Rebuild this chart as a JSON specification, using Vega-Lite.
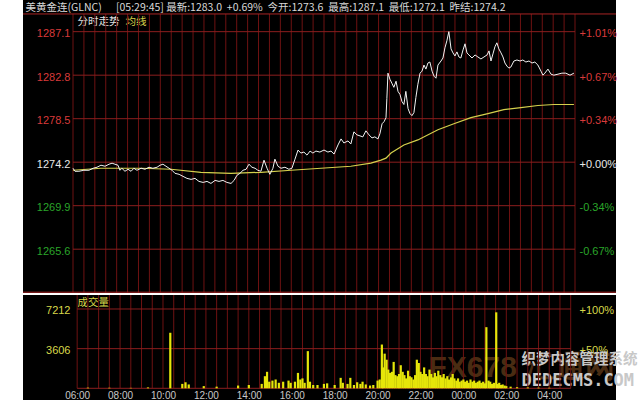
{
  "$schema": "https://vega.github.io/schema/vega-lite/v6.json",
  "background": "white",
  "padding": {"left": 22, "right": 25, "top": 0, "bottom": 0},
  "spacing": 0,
  "config": {
    "view": {"stroke": null, "fill": "#000000"},
    "axis": {"labelFont": "Liberation Sans", "titleFont": "Noto Sans CJK SC", "minExtent": 0, "domain": false, "ticks": false, "grid": false, "titleFontWeight": "normal", "labelFontWeight": "normal", "titleLimit": 700}
  },
  "datasets": {
    "price": [
      {"h":0,"p":1273.6},{"h":0.09,"p":1273.3},{"h":0.27,"p":1273.3},{"h":0.5,"p":1273.4},{"h":0.73,"p":1273.4},{"h":0.92,"p":1273.6},{"h":1.1,"p":1273.7},{"h":1.28,"p":1273.9},{"h":1.47,"p":1273.8},{"h":1.65,"p":1274.0},{"h":1.79,"p":1274.1},{"h":1.92,"p":1274.0},{"h":2.06,"p":1273.9},{"h":2.15,"p":1273.4},{"h":2.24,"p":1273.6},{"h":2.38,"p":1273.3},{"h":2.52,"p":1273.5},{"h":2.66,"p":1273.3},{"h":2.79,"p":1273.6},{"h":2.93,"p":1273.4},{"h":3.12,"p":1273.6},{"h":3.3,"p":1273.5},{"h":3.48,"p":1273.7},{"h":3.66,"p":1273.6},{"h":3.85,"p":1273.7},{"h":3.99,"p":1273.9},{"h":4.12,"p":1274.0},{"h":4.26,"p":1273.8},{"h":4.4,"p":1273.6},{"h":4.54,"p":1273.4},{"h":4.67,"p":1273.1},{"h":4.86,"p":1273.0},{"h":5.04,"p":1272.8},{"h":5.22,"p":1272.6},{"h":5.41,"p":1272.5},{"h":5.59,"p":1272.6},{"h":5.77,"p":1272.3},{"h":5.96,"p":1272.2},{"h":6.14,"p":1272.3},{"h":6.32,"p":1272.1},{"h":6.51,"p":1272.4},{"h":6.69,"p":1272.3},{"h":6.87,"p":1272.4},{"h":7.05,"p":1272.2},{"h":7.24,"p":1272.1},{"h":7.38,"p":1272.4},{"h":7.51,"p":1272.9},{"h":7.65,"p":1273.1},{"h":7.79,"p":1273.4},{"h":7.93,"p":1273.5},{"h":8.06,"p":1274.0},{"h":8.2,"p":1273.7},{"h":8.34,"p":1273.6},{"h":8.47,"p":1273.4},{"h":8.61,"p":1273.3},{"h":8.75,"p":1274.4},{"h":8.89,"p":1273.6},{"h":9.02,"p":1273.0},{"h":9.16,"p":1273.6},{"h":9.25,"p":1274.5},{"h":9.39,"p":1273.8},{"h":9.53,"p":1273.6},{"h":9.71,"p":1273.7},{"h":9.89,"p":1273.5},{"h":10.03,"p":1273.6},{"h":10.17,"p":1274.5},{"h":10.31,"p":1275.4},{"h":10.44,"p":1275.1},{"h":10.58,"p":1275.2},{"h":10.72,"p":1274.9},{"h":10.86,"p":1275.3},{"h":10.99,"p":1275.1},{"h":11.13,"p":1275.3},{"h":11.31,"p":1275.2},{"h":11.5,"p":1275.4},{"h":11.68,"p":1275.2},{"h":11.82,"p":1275.3},{"h":11.96,"p":1275.0},{"h":12.14,"p":1275.9},{"h":12.28,"p":1276.5},{"h":12.41,"p":1276.1},{"h":12.6,"p":1276.3},{"h":12.73,"p":1276.0},{"h":12.87,"p":1277.2},{"h":13.01,"p":1276.9},{"h":13.15,"p":1276.8},{"h":13.28,"p":1276.7},{"h":13.42,"p":1277.3},{"h":13.56,"p":1276.9},{"h":13.7,"p":1276.6},{"h":13.83,"p":1276.7},{"h":13.97,"p":1276.5},{"h":14.06,"p":1277.0},{"h":14.16,"p":1278.0},{"h":14.25,"p":1278.2},{"h":14.34,"p":1278.6},{"h":14.38,"p":1280.5},{"h":14.43,"p":1283.0},{"h":14.52,"p":1282.4},{"h":14.61,"p":1282.0},{"h":14.7,"p":1281.6},{"h":14.8,"p":1282.2},{"h":14.89,"p":1281.2},{"h":14.98,"p":1280.9},{"h":15.07,"p":1280.2},{"h":15.16,"p":1279.9},{"h":15.25,"p":1281.2},{"h":15.35,"p":1279.5},{"h":15.44,"p":1279.0},{"h":15.53,"p":1278.8},{"h":15.62,"p":1279.1},{"h":15.71,"p":1280.6},{"h":15.8,"p":1281.9},{"h":15.9,"p":1283.0},{"h":15.99,"p":1283.2},{"h":16.08,"p":1283.8},{"h":16.17,"p":1283.4},{"h":16.26,"p":1284.0},{"h":16.35,"p":1284.1},{"h":16.45,"p":1283.2},{"h":16.54,"p":1282.7},{"h":16.63,"p":1282.5},{"h":16.72,"p":1283.8},{"h":16.86,"p":1284.2},{"h":16.95,"p":1284.5},{"h":17.04,"p":1285.5},{"h":17.13,"p":1286.2},{"h":17.22,"p":1287.1},{"h":17.32,"p":1285.4},{"h":17.41,"p":1285.0},{"h":17.5,"p":1284.7},{"h":17.59,"p":1285.1},{"h":17.68,"p":1284.6},{"h":17.77,"p":1284.5},{"h":17.87,"p":1285.3},{"h":17.96,"p":1285.9},{"h":18.05,"p":1285.0},{"h":18.14,"p":1284.8},{"h":18.28,"p":1284.5},{"h":18.42,"p":1284.8},{"h":18.55,"p":1284.6},{"h":18.69,"p":1284.4},{"h":18.83,"p":1284.6},{"h":18.97,"p":1284.8},{"h":19.06,"p":1285.2},{"h":19.15,"p":1284.2},{"h":19.24,"p":1284.9},{"h":19.33,"p":1285.6},{"h":19.42,"p":1286.0},{"h":19.51,"p":1285.4},{"h":19.61,"p":1285.0},{"h":19.7,"p":1284.6},{"h":19.79,"p":1284.0},{"h":19.88,"p":1283.7},{"h":19.97,"p":1283.5},{"h":20.06,"p":1283.6},{"h":20.2,"p":1284.2},{"h":20.34,"p":1284.3},{"h":20.48,"p":1284.2},{"h":20.61,"p":1284.3},{"h":20.75,"p":1284.1},{"h":20.89,"p":1284.2},{"h":21.03,"p":1284.0},{"h":21.16,"p":1284.1},{"h":21.3,"p":1283.8},{"h":21.44,"p":1283.2},{"h":21.53,"p":1282.8},{"h":21.62,"p":1283.0},{"h":21.76,"p":1283.4},{"h":21.9,"p":1282.9},{"h":22.03,"p":1282.8},{"h":22.22,"p":1282.9},{"h":22.4,"p":1283.0},{"h":22.58,"p":1283.0},{"h":22.77,"p":1282.8},{"h":22.95,"p":1283.0}
    ],
    "avg": [
      {"h":0,"p":1273.4},{"h":1.28,"p":1273.6},{"h":3.12,"p":1273.6},{"h":4.49,"p":1273.5},{"h":5.86,"p":1273.2},{"h":7.24,"p":1273.1},{"h":8.61,"p":1273.2},{"h":9.99,"p":1273.4},{"h":11.36,"p":1273.6},{"h":12.73,"p":1273.8},{"h":13.65,"p":1274.1},{"h":14.11,"p":1274.4},{"h":14.34,"p":1274.6},{"h":14.57,"p":1275.1},{"h":15.16,"p":1275.9},{"h":15.8,"p":1276.4},{"h":16.72,"p":1277.4},{"h":17.45,"p":1278.0},{"h":18.23,"p":1278.6},{"h":19.01,"p":1279.0},{"h":19.74,"p":1279.4},{"h":20.52,"p":1279.6},{"h":21.3,"p":1279.8},{"h":22.03,"p":1279.9},{"h":22.95,"p":1279.9}
    ],
    "vol": [
      {"h":0.5,"v":60},{"h":1.5,"v":50},{"h":2.5,"v":40},{"h":3.3,"v":80},{"h":4.34,"v":5050},{"h":4.9,"v":400},{"h":5.05,"v":550},{"h":5.2,"v":350},{"h":5.9,"v":200},{"h":6.5,"v":150},{"h":7.5,"v":250},{"h":8.0,"v":300},{"h":8.6,"v":400},{"h":8.75,"v":1100},{"h":8.85,"v":1500},{"h":8.95,"v":600},{"h":9.1,"v":700},{"h":9.25,"v":800},{"h":9.4,"v":500},{"h":9.6,"v":600},{"h":9.85,"v":700},{"h":9.95,"v":500},{"h":10.15,"v":600},{"h":10.29,"v":1400},{"h":10.4,"v":800},{"h":10.5,"v":900},{"h":10.6,"v":500},{"h":10.75,"v":3380},{"h":10.85,"v":600},{"h":11.0,"v":300},{"h":11.2,"v":300},{"h":11.5,"v":400},{"h":11.65,"v":450},{"h":12.0,"v":300},{"h":12.28,"v":950},{"h":12.38,"v":500},{"h":12.6,"v":400},{"h":12.73,"v":950},{"h":12.9,"v":300},{"h":13.05,"v":550},{"h":13.2,"v":400},{"h":13.3,"v":600},{"h":13.45,"v":350},{"h":13.65,"v":250},{"h":13.8,"v":300},{"h":14.0,"v":700},{"h":14.1,"v":800},{"h":14.2,"v":3980},
      {"h":14.25,"v":1900},{"h":14.33,"v":3150},{"h":14.42,"v":2600},{"h":14.5,"v":1700},{"h":14.58,"v":1400},{"h":14.67,"v":1500},{"h":14.75,"v":2400},{"h":14.83,"v":1200},{"h":14.92,"v":1100},{"h":15.0,"v":1300},{"h":15.08,"v":2100},{"h":15.17,"v":1500},{"h":15.25,"v":1200},{"h":15.33,"v":900},{"h":15.42,"v":1600},{"h":15.5,"v":1100},{"h":15.58,"v":1000},{"h":15.67,"v":800},{"h":15.75,"v":1200},{"h":15.83,"v":2600},{"h":15.92,"v":2300},{"h":16.0,"v":1500},{"h":16.08,"v":1300},{"h":16.17,"v":1900},{"h":16.25,"v":1300},{"h":16.33,"v":1100},{"h":16.42,"v":1700},{"h":16.5,"v":1300},{"h":16.58,"v":1000},{"h":16.67,"v":1400},{"h":16.75,"v":1100},{"h":16.83,"v":1600},{"h":16.92,"v":1200},{"h":17.0,"v":1000},{"h":17.08,"v":1300},{"h":17.17,"v":900},{"h":17.25,"v":1100},{"h":17.33,"v":800},{"h":17.42,"v":1000},{"h":17.5,"v":1300},{"h":17.58,"v":900},{"h":17.67,"v":700},{"h":17.75,"v":900},{"h":17.83,"v":600},{"h":17.92,"v":700},{"h":18.0,"v":800},{"h":18.08,"v":600},{"h":18.17,"v":700},{"h":18.25,"v":500},{"h":18.33,"v":800},{"h":18.42,"v":600},{"h":18.5,"v":700},{"h":18.58,"v":500},{"h":18.67,"v":600},{"h":18.75,"v":700},{"h":18.83,"v":500},{"h":18.92,"v":600},{"h":19.0,"v":450},{"h":19.07,"v":5560},{"h":19.17,"v":700},{"h":19.25,"v":600},{"h":19.33,"v":400},{"h":19.42,"v":500},{"h":19.53,"v":6910},{"h":19.6,"v":400},{"h":19.67,"v":500},{"h":19.75,"v":300},{"h":19.83,"v":350},{"h":19.92,"v":250},{"h":20.0,"v":200},{"h":20.2,"v":150},{"h":20.5,"v":100},{"h":21.0,"v":80},{"h":21.5,"v":60},{"h":22.0,"v":50}
    ],
    "hours": [
      {"h":0},{"h":0.5},{"h":1},{"h":1.5},{"h":2},{"h":2.5},{"h":3},{"h":3.5},{"h":4},{"h":4.5},{"h":5},{"h":5.5},{"h":6},{"h":6.5},{"h":7},{"h":7.5},{"h":8},{"h":8.5},{"h":9},{"h":9.5},{"h":10},{"h":10.5},{"h":11},{"h":11.5},{"h":12},{"h":12.5},{"h":13},{"h":13.5},{"h":14},{"h":14.5},{"h":15},{"h":15.5},{"h":16},{"h":16.5},{"h":17},{"h":17.5},{"h":18},{"h":18.5},{"h":19},{"h":19.5},{"h":20},{"h":20.5},{"h":21},{"h":21.5},{"h":22},{"h":22.5},{"h":23}
    ],
    "plevels": [{"p":1265.6},{"p":1269.9},{"p":1274.2},{"p":1278.5},{"p":1282.8},{"p":1287.1}],
    "vlevels": [{"v":0},{"v":3606},{"v":7212}]
  },
  "vconcat": [
    {
      "width": 593,
      "height": 293,
      "resolve": {"axis": {"x": "independent", "y": "independent"}},
      "layer": [
        {
          "data": {"name": "hours"},
          "mark": {"type": "rule", "color": "#6e1212", "strokeWidth": 1},
          "encoding": {
            "x": {"field": "h", "type": "quantitative", "scale": {"domain": [-2.291, 24.878], "nice": false, "zero": false}, "axis": null},
            "y": {"datum": 1288.85, "type": "quantitative", "scale": {"domain": [1261.27, 1290.23], "nice": false, "zero": false}, "axis": null},
            "y2": {"datum": 1261.3}
          }
        },
        {
          "data": {"name": "plevels"},
          "mark": {"type": "rule", "color": "#8b1e1e", "strokeWidth": 1},
          "encoding": {
            "x": {"datum": 0, "type": "quantitative", "scale": {"domain": [-2.291, 24.878], "nice": false, "zero": false}, "axis": null},
            "x2": {"datum": 23},
            "y": {"field": "p", "type": "quantitative", "scale": {"domain": [1261.27, 1290.23], "nice": false, "zero": false},
              "axis": {"orient": "right", "offset": -41, "values": [1265.6, 1269.9, 1274.2, 1278.5, 1282.8, 1287.1],
                "labelExpr": "(datum.value >= 1274.2 ? '+' : '-') + format(abs(datum.value - 1274.2) / 1274.2 * 100, '.2f') + '%'",
                "labelColor": {"condition": [{"test": "datum.value > 1274.25", "value": "#d83a3a"}, {"test": "datum.value < 1274.15", "value": "#2aa52a"}], "value": "#e8e8e8"},
                "labelFontSize": 11, "labelPadding": 4, "labelOffset": 2,
                "title": "均线", "titleX": -450, "titleY": 21, "titleAlign": "left", "titleBaseline": "middle", "titleAngle": 0, "titleColor": "#d8d24a", "titleFontSize": 10.5}}
          }
        },
        {
          "data": {"values": [{}]},
          "mark": {"type": "rule", "color": "#a82424", "strokeWidth": 1},
          "encoding": {
            "x": {"datum": -2.291, "type": "quantitative", "scale": {"domain": [-2.291, 24.878], "nice": false, "zero": false}, "axis": null},
            "x2": {"datum": 24.878},
            "y": {"datum": 1288.85, "type": "quantitative", "scale": {"domain": [1261.27, 1290.23], "nice": false, "zero": false}, "axis": null}
          }
        },
        {
          "data": {"values": [{}]},
          "mark": {"type": "rule", "color": "#a82424", "strokeWidth": 1},
          "encoding": {
            "x": {"datum": -2.291, "type": "quantitative", "scale": {"domain": [-2.291, 24.878], "nice": false, "zero": false}, "axis": null},
            "x2": {"datum": 24.878},
            "y": {"datum": 1261.35, "type": "quantitative", "scale": {"domain": [1261.27, 1290.23], "nice": false, "zero": false}, "axis": null}
          }
        },
        {
          "data": {"name": "avg"},
          "mark": {"type": "line", "color": "#d4d04c", "strokeWidth": 1.2},
          "encoding": {
            "x": {"field": "h", "type": "quantitative", "scale": {"domain": [-2.291, 24.878], "nice": false, "zero": false}, "axis": null},
            "y": {"field": "p", "type": "quantitative", "scale": {"domain": [1261.27, 1290.23], "nice": false, "zero": false}, "axis": null}
          }
        },
        {
          "data": {"name": "price"},
          "mark": {"type": "line", "color": "#f2f2f2", "strokeWidth": 1},
          "encoding": {
            "x": {"field": "h", "type": "quantitative", "scale": {"domain": [-2.291, 24.878], "nice": false, "zero": false},
              "axis": {"orient": "top", "offset": 0, "labels": false, "ticks": false, "domain": false,
                "title": "美黄金连(GLNC)\u00a0\u00a0\u00a0\u00a0\u00a0\u00a0[05:29:45]\u00a0最新:1283.0\u00a0\u00a0+0.69%\u00a0\u00a0今开:1273.6\u00a0\u00a0最高:1287.1\u00a0\u00a0最低:1272.1\u00a0\u00a0昨结:1274.2",
                "titleX": 2, "titleY": 7.5, "titleAlign": "left", "titleBaseline": "middle", "titleAngle": 0, "titleColor": "#d8d8d8", "titleFontSize": 10.5}},
            "y": {"field": "p", "type": "quantitative", "scale": {"domain": [1261.27, 1290.23], "nice": false, "zero": false},
              "axis": {"orient": "left", "offset": -50, "values": [1265.6, 1269.9, 1274.2, 1278.5, 1282.8, 1287.1], "format": ".1f",
                "labelColor": {"condition": [{"test": "datum.value > 1274.25", "value": "#d83a3a"}, {"test": "datum.value < 1274.15", "value": "#2aa52a"}], "value": "#e8e8e8"},
                "labelFontSize": 11, "labelPadding": 3, "labelOffset": 2,
                "title": "分时走势", "titleX": 4, "titleY": 21, "titleAlign": "left", "titleBaseline": "middle", "titleAngle": 0, "titleColor": "#e0e0e0", "titleFontSize": 10.5}}
          }
        }
      ]
    },
    {
      "width": 593,
      "height": 107,
      "resolve": {"axis": {"x": "independent", "y": "independent"}},
      "layer": [
        {
          "data": {"name": "hours"},
          "mark": {"type": "rule", "color": "#6e1212", "strokeWidth": 1},
          "encoding": {
            "x": {"field": "h", "type": "quantitative", "scale": {"domain": [-2.291, 24.878], "nice": false, "zero": false},
              "axis": {"orient": "top", "offset": 0, "labels": false, "ticks": false, "domain": false,
                "title": "FX678 汇通网", "titleX": 405, "titleY": 72, "titleAlign": "left", "titleBaseline": "middle", "titleAngle": 0,
                "titleColor": "#a8652a", "titleOpacity": 0.45, "titleFont": "Liberation Sans", "titleFontSize": 30, "titleFontWeight": "bold"}},
            "y": {"datum": 0, "type": "quantitative", "scale": {"domain": [-1246, 8485], "nice": false, "zero": false}, "axis": null},
            "y2": {"datum": 8485}
          }
        },
        {
          "data": {"name": "vlevels"},
          "mark": {"type": "rule", "color": "#8b1e1e", "strokeWidth": 1},
          "encoding": {
            "x": {"datum": 0, "type": "quantitative", "scale": {"domain": [-2.291, 24.878], "nice": false, "zero": false}, "axis": null},
            "x2": {"datum": 23},
            "y": {"field": "v", "type": "quantitative", "scale": {"domain": [-1246, 8485], "nice": false, "zero": false},
              "axis": {"orient": "right", "offset": -41, "values": [3606, 7212],
                "labelExpr": "datum.value == 7212 ? '+100%' : '+50%'",
                "labelColor": "#d8d84a", "labelFontSize": 11, "labelPadding": 4, "labelOffset": 2,
                "title": "织梦内容管理系统", "titleX": -54, "titleY": 64, "titleAlign": "left", "titleBaseline": "middle", "titleAngle": 0,
                "titleColor": "#c8c8c8", "titleFontSize": 14.5, "titleFontWeight": "bold", "titleLimit": 300}}
          }
        },
        {
          "data": {"name": "vol"},
          "mark": {"type": "bar", "color": "#e6e60a", "width": 2.2},
          "encoding": {
            "x": {"field": "h", "type": "quantitative", "scale": {"domain": [-2.291, 24.878], "nice": false, "zero": false},
              "axis": {"orient": "bottom", "offset": -14, "values": [0, 2, 4, 6, 8, 10, 12, 14, 16, 18, 20, 22],
                "labelExpr": "((6 + datum.value) % 24 < 10 ? '0' : '') + ((6 + datum.value) % 24) + ':00'",
                "labelColor": "#c8c8c8", "labelFontSize": 10, "labelPadding": 2, "labelOverlap": false, "labelFlush": false,
                "title": "DEDECMS.COM", "titleX": 498, "titleY": -8, "titleAlign": "left", "titleBaseline": "middle", "titleAngle": 0,
                "titleColor": "#c8c8c8", "titleFont": "DejaVu Sans Mono", "titleFontSize": 17, "titleFontWeight": "bold", "titleLimit": 300}},
            "y": {"field": "v", "type": "quantitative", "scale": {"domain": [-1246, 8485], "nice": false, "zero": false},
              "axis": {"orient": "left", "offset": -50, "values": [3606, 7212], "format": "d",
                "labelColor": "#d8d84a", "labelFontSize": 11, "labelPadding": 3, "labelOffset": 2,
                "title": "成交量", "titleX": 4, "titleY": 7, "titleAlign": "left", "titleBaseline": "middle", "titleAngle": 0, "titleColor": "#d8d84a", "titleFontSize": 10.5}},
            "y2": {"datum": 0}
          }
        }
      ]
    }
  ]
}
